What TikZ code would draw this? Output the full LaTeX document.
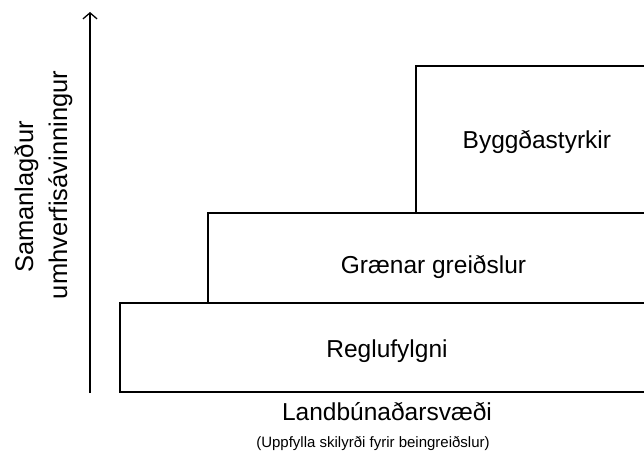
\documentclass[tikz,border=0pt]{standalone}
\usepackage{fontspec}
\setmainfont{Liberation Sans}
\usetikzlibrary{arrows.meta}
\begin{document}
\begin{tikzpicture}[x=1pt,y=-1pt,
  line width=1.3pt,
  tier/.style={draw=black, line width=1.3pt},
  lbl/.style={font=\fontsize{24.5}{30}\selectfont, inner sep=0pt, anchor=base},
  ytitle/.style={font=\fontsize{25.5}{30}\selectfont, inner sep=0pt, rotate=90, anchor=base},
  small/.style={font=\fontsize{15}{18}\selectfont, inner sep=0pt, anchor=base}]
  \useasboundingbox (0,0) rectangle (644,452);
  \clip (0,0) rectangle (644,452);
  % value axis
  \coordinate (axbot) at (90,393);
  \coordinate (axtop) at (90,12);
  \draw[-{Straight Barb[length=6pt,width=14pt]}] (axbot) -- (axtop);
  \node[ytitle] (ylab1) at (33,197) {Samanlagður};
  \node[ytitle] (ylab2) at (67,185) {umhverfisávinningur};
  % stacked tiers
  \draw[tier] (660,303) -- (120,303) -- (120,392) -- (660,392);
  \draw[tier] (660,213) -- (208,213) -- (208,303);
  \draw[tier] (660,66) -- (416,66) -- (416,213);
  \node[lbl] (t1) at (387,357) {Reglufylgni};
  \node[lbl] (t2) at (433.5,273) {Grænar greiðslur};
  \node[lbl, anchor=base west] (t3) at (462,148) {Byggðastyrkir};
  % base caption
  \node[lbl] (xlab) at (387,420) {Landbúnaðarsvæði};
  \node[small] (xsub) at (373,447) {(Uppfylla skilyrði fyrir beingreiðslur)};
\end{tikzpicture}
\end{document}
